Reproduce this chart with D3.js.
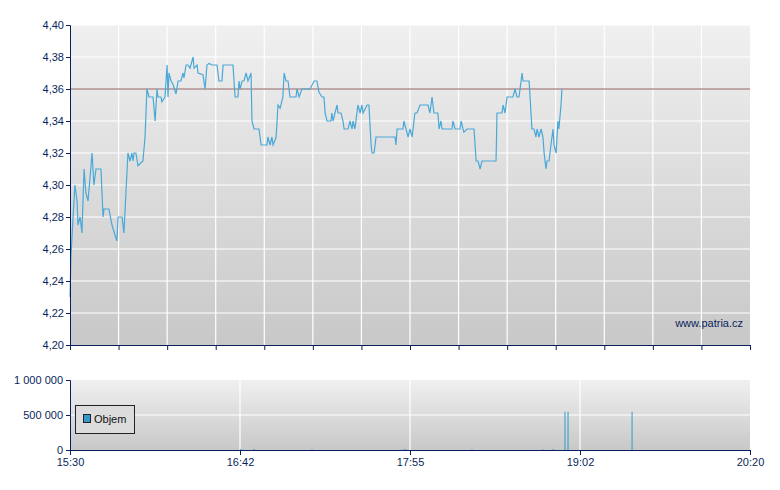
<!DOCTYPE html>
<html><head><meta charset="utf-8">
<script src="https://cdn.jsdelivr.net/npm/d3@7"></script>
<style>body{margin:0;background:#fff}text{font-family:"Liberation Sans",Arial,sans-serif}</style>
</head><body><svg id="c" width="780" height="490"></svg>
<script>
const minutes=[0,0.4,1.3,2.1,3,3.4,4.3,5.1,6,6.8,7.7,9.4,10.2,11.1,13.2,14.1,14.5,16.6,17.9,20,20.5,22.2,23,24.7,25.6,26.4,26.9,27.3,28.1,29,31.1,32,32.8,33.7,35.4,36.3,37.1,37.5,38.8,39.2,40.5,41.4,41.8,42.2,43.1,43.9,45.2,46.1,47.3,48.2,48.6,49.5,50.3,51.2,52.5,52.9,54.2,54.6,56.7,57.6,58.4,59.3,60.6,62.7,63.5,64.8,65.3,69.5,70.4,71.6,72.1,72.5,73.4,74.2,75.1,75.9,77.2,77.6,78.5,80.6,81.5,84,84.4,85.3,86.1,86.6,87.9,88.7,89.6,90.8,91.3,92.1,93,93.8,96.4,96.8,97.7,98.9,101.5,102.4,104.1,105.3,106.2,107.5,108.3,108.8,109.6,111.3,111.7,112.2,113,113.9,114.3,115.6,116.4,116.9,118.6,119.4,120.3,120.7,121.5,122.8,123.7,124.5,125,126.7,127.5,128.4,128.8,129.7,130.5,138.6,139,139.5,142,142.4,143.3,144.2,145,145.9,147.1,148,149.3,152.7,153.5,154.4,155.2,156.9,157.4,158.2,158.7,162.9,163.3,164.2,166.3,166.8,167.6,168,169.3,172.3,173.2,174,174.9,175.7,181.7,182.1,184.2,184.7,185.5,186.4,188.9,189.8,190.6,191.5,192.8,193.2,195.8,197,197.9,198.7,199.2,200,200.9,201.7,202.2,203,203.4,204.3,205.1,206,206.4,207.3,208.1,208.5,209.4,209.8];
const prices=[4.23,4.255,4.28,4.30,4.29,4.275,4.28,4.27,4.31,4.295,4.29,4.32,4.30,4.31,4.31,4.28,4.285,4.285,4.275,4.265,4.28,4.28,4.27,4.32,4.315,4.32,4.315,4.32,4.32,4.312,4.315,4.33,4.36,4.355,4.355,4.34,4.36,4.355,4.355,4.352,4.355,4.375,4.355,4.37,4.365,4.363,4.357,4.365,4.365,4.37,4.367,4.375,4.375,4.373,4.38,4.373,4.375,4.37,4.369,4.36,4.375,4.376,4.375,4.375,4.365,4.365,4.375,4.375,4.355,4.355,4.365,4.36,4.365,4.365,4.37,4.365,4.37,4.34,4.335,4.335,4.325,4.325,4.33,4.325,4.33,4.325,4.33,4.35,4.348,4.355,4.37,4.365,4.365,4.355,4.355,4.36,4.355,4.36,4.36,4.36,4.365,4.365,4.358,4.355,4.355,4.345,4.34,4.34,4.345,4.34,4.345,4.35,4.345,4.345,4.34,4.335,4.335,4.34,4.335,4.34,4.335,4.35,4.345,4.35,4.345,4.35,4.35,4.325,4.32,4.32,4.33,4.33,4.325,4.335,4.335,4.34,4.335,4.33,4.335,4.33,4.345,4.345,4.35,4.35,4.345,4.355,4.345,4.345,4.335,4.34,4.335,4.335,4.34,4.335,4.335,4.34,4.335,4.333,4.335,4.335,4.315,4.315,4.31,4.315,4.315,4.345,4.345,4.35,4.345,4.355,4.355,4.36,4.355,4.355,4.37,4.365,4.365,4.335,4.335,4.33,4.335,4.33,4.335,4.33,4.32,4.31,4.315,4.315,4.325,4.335,4.325,4.32,4.34,4.335,4.35,4.36];
const refPrice=4.36;
const volMinutes=[72.9,78.5,103.2,142.4,143.3,171.4,201.7,206,211.1,212.4,239.7];
const volValues=[15000,15000,10000,12000,12000,10000,10000,15000,545000,545000,545000];
const priceTicks=[4.20,4.22,4.24,4.26,4.28,4.30,4.32,4.34,4.36,4.38,4.40];
const volTicks=[0,500000,1000000];
const timeTicks=[0,72.5,145,217.5,290];
const timeLabels=["15:30","16:42","17:55","19:02","20:20"];

const svg=d3.select("#c"), navy="#0a1f5c";
const L=70,R=750,T=25,B=345,VT=380,VB=450;
const x=d3.scaleLinear().domain([0,290]).range([L,R]);
const y=d3.scaleLinear().domain([4.20,4.40]).range([B,T]);
const yv=d3.scaleLinear().domain([0,1000000]).range([VB,VT]);
const defs=svg.append("defs");
const g=defs.append("linearGradient").attr("id","bg").attr("x1",0).attr("x2",0).attr("y1",0).attr("y2",1);
g.append("stop").attr("offset",0).attr("stop-color","#f0f0f0");
g.append("stop").attr("offset",1).attr("stop-color","#c8c8c8");
svg.append("rect").attr("x",L).attr("y",T).attr("width",R-L).attr("height",B-T).attr("fill","url(#bg)");
svg.append("rect").attr("x",L).attr("y",VT).attr("width",R-L).attr("height",VB-VT).attr("fill","url(#bg)");
const gridX=d3.range(15).map(i=>i*290/14);
svg.append("g").selectAll("line").data(gridX.slice(1,14)).join("line").attr("x1",d=>x(d)).attr("x2",d=>x(d)).attr("y1",T).attr("y2",B).attr("stroke","#fff").attr("stroke-width",1.2);
svg.append("g").selectAll("line").data(priceTicks.slice(1)).join("line").attr("x1",L).attr("x2",R).attr("y1",d=>y(d)).attr("y2",d=>y(d)).attr("stroke","#fff").attr("stroke-width",1.2);
svg.append("g").selectAll("line").data(timeTicks.slice(1,4)).join("line").attr("x1",d=>x(d)).attr("x2",d=>x(d)).attr("y1",VT).attr("y2",VB).attr("stroke","#fff").attr("stroke-width",1.2);
svg.append("line").attr("x1",L).attr("x2",R).attr("y1",yv(500000)).attr("y2",yv(500000)).attr("stroke","#fff").attr("stroke-width",1.2);
svg.append("line").attr("x1",L).attr("x2",R).attr("y1",y(refPrice)).attr("y2",y(refPrice)).attr("stroke","#8a5a5a").attr("stroke-width",1);
svg.append("path").datum(minutes.map((m,i)=>[m,prices[i]])).attr("fill","none").attr("stroke","#4aa8d8").attr("stroke-width",1.2)
 .attr("d",d3.line().x(d=>x(d[0])).y(d=>y(d[1])));
svg.append("g").selectAll("line").data(volMinutes).join("line").attr("x1",d=>x(d)).attr("x2",d=>x(d)).attr("y1",VB).attr("y2",(d,i)=>yv(volValues[i])).attr("stroke","#3399cc").attr("stroke-width",1);
// axes
const ya=svg.append("g").attr("transform",`translate(${L},0)`).call(d3.axisLeft(y).tickValues(priceTicks).tickSize(4).tickFormat(d=>d3.format(".2f")(d).replace(".",",")));
const xa=svg.append("g").attr("transform",`translate(0,${B})`).call(d3.axisBottom(x).tickValues(gridX).tickSize(5).tickFormat(""));
const yva=svg.append("g").attr("transform",`translate(${L},0)`).call(d3.axisLeft(yv).tickValues(volTicks).tickSize(4).tickFormat(d=>d3.format(",")(d).replace(/,/g," ")));
const xva=svg.append("g").attr("transform",`translate(0,${VB})`).call(d3.axisBottom(x).tickValues(timeTicks).tickSize(5).tickFormat((d,i)=>timeLabels[i]));
[ya,xa,yva,xva].forEach(a=>{a.selectAll("path,line").attr("stroke",navy);a.selectAll("text").attr("fill",navy).style("font-size","11px");});
ya.selectAll("text").attr("x",-6);
svg.append("text").attr("x",743).attr("y",327).attr("text-anchor","end").attr("fill",navy).style("font-size","11px").text("www.patria.cz");
svg.append("rect").attr("x",75.5).attr("y",405.5).attr("width",59).attr("height",28).attr("fill","#dcdcdc").attr("stroke","#222");
svg.append("rect").attr("x",83.5).attr("y",414.5).attr("width",7).attr("height",8).attr("fill","#3399cc").attr("stroke","#222");
svg.append("text").attr("x",94).attr("y",423).attr("fill","#111").style("font-size","11px").text("Objem");
</script></body></html>
